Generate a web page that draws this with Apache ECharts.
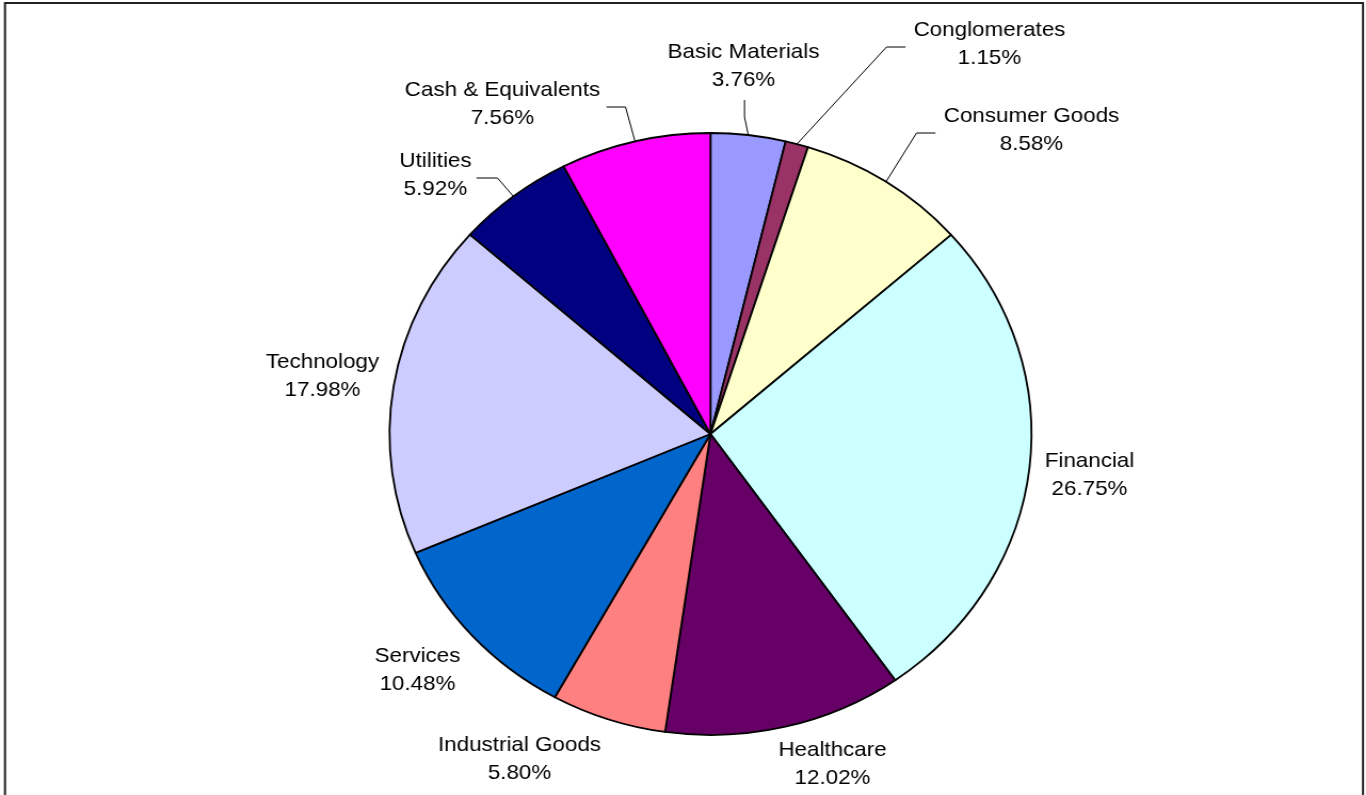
<!DOCTYPE html>
<html><head><meta charset="utf-8">
<script src="https://cdn.jsdelivr.net/npm/echarts@6/dist/echarts.min.js"></script>
<style>html,body{margin:0;padding:0;background:#fff;overflow:hidden;width:1366px;height:795px}
#c{width:1281px;height:795px;transform:scaleX(1.0664);transform-origin:0 0}</style>
</head><body><div id="c"></div>
<script>
// ---- data ----
const categories = ['Basic Materials','Conglomerates','Consumer Goods','Financial','Healthcare','Industrial Goods','Services','Technology','Utilities','Cash & Equivalents'];
const shares = [3.76, 1.15, 8.58, 26.75, 12.02, 5.80, 10.48, 17.98, 5.92, 7.56];
const colors = ['#9999FF','#993366','#FFFFCC','#CCFFFF','#660066','#FF8080','#0066CC','#CCCCFF','#000080','#FF00FF'];

// ---- layout (screen pixels; the chart is stretched horizontally like the original's elliptical pie) ----
const SX = 1.0664;
const CX = 710.5, CY = 434, R = 301;
// label block centres, offsets from the pie centre
const labelOffset = [[33,-368],[279,-390],[321,-304],[379,41],[122,330],[-191,325],[-293,236],[-388,-58],[-275,-259],[-208,-330]];
// leader lines: [start, bend] offsets from the pie centre (null = no leader)
const leader = [[[34,-334],[34,-317]], [[195,-387],[176,-387]], [[225,-301],[206,-301]], null, null, null, null, null,
                [[-234,-256],[-213,-256]], [[-104,-327],[-85,-327]]];

const total = shares.reduce((a,b)=>a+b,0);
const cum = []; let acc = 0;
shares.forEach(v => { cum.push(acc + v/2); acc += v; });

const cx = CX / SX;
const chart = echarts.init(document.getElementById('c'), null, {renderer:'canvas'});
chart.setOption({
  backgroundColor: '#fff',
  animation: false,
  graphic: [{type:'rect', shape:{x:5/SX, y:3, width:1358/SX, height:820}, style:{fill:'none', stroke:'#222', lineWidth:2}, silent:true, z:-1}],
  series: [{
    type: 'pie',
    center: [cx, CY],
    radius: R,
    startAngle: 90,
    clockwise: true,
    avoidLabelOverlap: false,
    data: categories.map((n,i)=>({name:n, value:shares[i], itemStyle:{color:colors[i]},
          labelLine:{show: leader[i] !== null}})),
    itemStyle: {borderColor:'#000', borderWidth:1.8},
    label: {
      show: true, position: 'outside', color:'#000',
      fontFamily: 'Liberation Sans, Arial, sans-serif', fontSize: 21, lineHeight: 28,
      formatter: p => p.name + '\n' + p.value.toFixed(2) + '%'
    },
    labelLine: {lineStyle:{color:'#000', width:1}, length: 10, length2: 10},
    emphasis: {disabled: true},
    labelLayout: function (p) {
      const i = p.dataIndex;
      const o = labelOffset[i];
      const res = {x: cx + o[0]/SX, y: CY + o[1], align:'center', verticalAlign:'middle'};
      if (leader[i]) {
        const a = cum[i] / total * 2 * Math.PI;
        const edge = [cx + R*Math.sin(a), CY - R*Math.cos(a)];
        res.labelLinePoints = [edge,
          [cx + leader[i][1][0]/SX, CY + leader[i][1][1]],
          [cx + leader[i][0][0]/SX, CY + leader[i][0][1]]];
      }
      return res;
    }
  }]
});
</script></body></html>
